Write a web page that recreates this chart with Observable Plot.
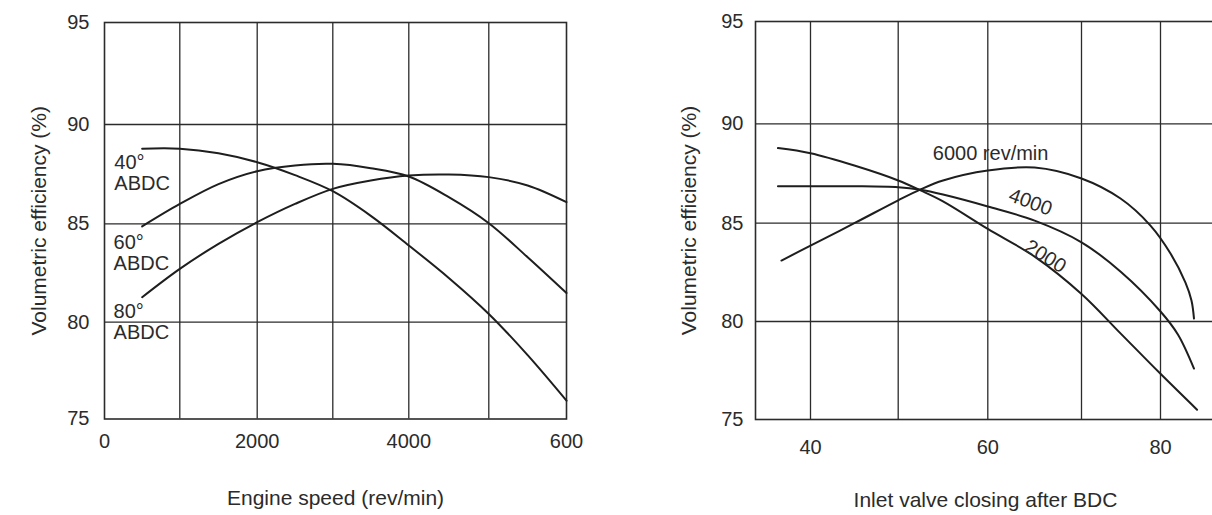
<!DOCTYPE html>
<html>
<head>
<meta charset="utf-8">
<script src="https://cdn.jsdelivr.net/npm/d3@7"></script>
<script src="https://cdn.jsdelivr.net/npm/@observablehq/plot@0.6"></script>
<style>
  html, body { margin: 0; padding: 0; background: #fff; overflow: hidden; }
  #wrap { position: relative; width: 1212px; height: 515px; overflow: hidden; background: #fff; }
  #left { position: absolute; left: 0; top: 0; width: 606px; height: 515px; }
  #right { position: absolute; left: 606px; top: 0; width: 700px; height: 515px; }
  #wrap svg { max-width: none !important; }
</style>
</head>
<body>
<div id="wrap"><div id="left"></div><div id="right"></div></div>
<script>
// ---------- Left panel data: volumetric efficiency vs engine speed ----------
const speed = [500, 1000, 1500, 2000, 2500, 3000, 3500, 4000, 4500, 5000, 5500, 6000];
const ve40 = [88.78, 88.78, 88.55, 88.1, 87.45, 86.64, 85.4, 83.9, 82.25, 80.42, 78.3, 75.95];
const ve60 = [84.87, 86.0, 87.0, 87.65, 87.94, 88.02, 87.8, 87.38, 86.34, 85.03, 83.3, 81.48];
const ve80 = [81.27, 82.71, 83.98, 85.08, 86.0, 86.76, 87.18, 87.43, 87.48, 87.35, 86.93, 86.09];
const leftXTicks = [0, 2000, 4000, 6000];
const leftXTickLabels = ["0", "2000", "4000", "600"];
const leftXGrid = [1000, 2000, 3000, 4000, 5000];
const yTicks = [75, 80, 85, 90, 95];
const yGrid = [80, 85, 90];
const leftLabels = ["40°\nABDC", "60°\nABDC", "80°\nABDC"];
const leftLabelX = [130, 120, 120];
const leftLabelY = [87.56, 83.53, 80.04];

// ---------- Right panel data: volumetric efficiency vs inlet valve closing ----------
const ivc6000 = [36.7, 40, 45, 50, 52.5, 55, 60, 65, 70, 74.94, 78.73, 81.15, 82.87, 83.56, 83.85];
const ve6000 = [83.1, 83.86, 85.0, 86.15, 86.7, 87.15, 87.65, 87.8, 87.25, 86.24, 84.88, 83.46, 81.98, 81.07, 80.15];
const ivc4000 = [36.3, 40, 45, 50, 52.5, 55, 60, 65, 70, 75, 80, 82, 83.85];
const ve4000 = [86.86, 86.86, 86.86, 86.81, 86.68, 86.44, 85.84, 85.13, 84.03, 82.52, 80.51, 79.34, 77.6];
const ivc2000 = [36.3, 40, 45, 50, 52.5, 55, 60, 65, 70, 75, 80, 84.2];
const ve2000 = [88.78, 88.52, 87.9, 87.15, 86.65, 86.1, 84.71, 83.3, 81.4, 79.37, 77.33, 75.5];
const rightXTicks = [40, 60, 80];
const rightXGrid = [40, 50, 60, 70, 80];
const rightLabels = ["6000 rev/min", "4000", "2000"];
const rightLabelX = [60.3, 64.56, 66.16];
const rightLabelY = [88.52, 86.06, 83.31];
const rightLabelRotate = [0, 20, 32];

const yTitle = "Volumetric efficiency (%)";
const leftXTitle = "Engine speed (rev/min)";
const rightXTitle = "Inlet valve closing after BDC";

const ink = "#2b2b2b";
const font = "'Liberation Sans', Arial, Helvetica, sans-serif";

function series(xs, ys) { return xs.map((x, i) => ({x, y: ys[i]})); }
const lineStyle = {x: "x", y: "y", stroke: "#1e1e1e", strokeWidth: 2, curve: "catmull-rom"};

const leftPlot = Plot.plot({
  width: 606, height: 515,
  marginLeft: 104, marginRight: 40, marginTop: 22, marginBottom: 96.5,
  style: {fontFamily: font, fontSize: "20px", color: ink, background: "transparent", maxWidth: "none"},
  x: {type: "linear", domain: [0, 1000, 2000, 3000, 4000, 5000, 6000],
      range: [104, 179.3, 256.7, 332.3, 408.3, 488.3, 566],
      ticks: leftXTicks, tickFormat: d => leftXTickLabels[leftXTicks.indexOf(d)],
      tickSize: 0, tickPadding: 15, label: null},
  y: {type: "linear", domain: [75, 80, 85, 90, 95],
      range: [418.5, 321.7, 223.3, 124, 22],
      ticks: yTicks, tickSize: 0, tickPadding: 15, label: null},
  marks: [
    Plot.ruleX(leftXGrid, {stroke: ink, strokeWidth: 1.3}),
    Plot.ruleY(yGrid, {stroke: ink, strokeWidth: 1.3}),
    Plot.frame({stroke: ink, strokeWidth: 1.6}),
    Plot.line(series(speed, ve40), lineStyle),
    Plot.line(series(speed, ve60), lineStyle),
    Plot.line(series(speed, ve80), lineStyle),
    Plot.text(leftLabels, {x: (d, i) => leftLabelX[i], y: (d, i) => leftLabelY[i], text: d => d,
      textAnchor: "start", lineAnchor: "middle", lineHeight: 1.05, fontSize: 20, fill: ink}),
    Plot.text([yTitle], {frameAnchor: "left", dx: -65, rotate: -90, textAnchor: "middle", lineAnchor: "middle", fontSize: 21, fill: ink}),
    Plot.text([leftXTitle], {frameAnchor: "bottom", dy: 79, textAnchor: "middle", lineAnchor: "middle", fontSize: 21, fill: ink})
  ]
});
document.getElementById("left").appendChild(leftPlot);

const rightPlot = Plot.plot({
  width: 700, height: 515,
  marginLeft: 149, marginRight: 59, marginTop: 21, marginBottom: 96,
  style: {fontFamily: font, fontSize: "20px", color: ink, background: "transparent", maxWidth: "none"},
  x: {type: "linear", domain: [33.75, 40, 50, 60, 70, 80, 90],
      range: [149, 204, 291.7, 381.3, 475, 554, 641],
      ticks: rightXTicks, tickSize: 0, tickPadding: 20, label: null},
  y: {type: "linear", domain: [75, 80, 85, 90, 95],
      range: [419, 321, 222.7, 123.3, 21],
      ticks: yTicks, tickSize: 0, tickPadding: 12, label: null},
  marks: [
    Plot.ruleX(rightXGrid, {stroke: ink, strokeWidth: 1.3}),
    Plot.ruleY(yGrid, {stroke: ink, strokeWidth: 1.3}),
    Plot.frame({stroke: ink, strokeWidth: 1.6}),
    Plot.line(series(ivc6000, ve6000), lineStyle),
    Plot.line(series(ivc4000, ve4000), lineStyle),
    Plot.line(series(ivc2000, ve2000), lineStyle),
    Plot.text(rightLabels, {x: (d, i) => rightLabelX[i], y: (d, i) => rightLabelY[i], text: d => d,
      rotate: (d, i) => rightLabelRotate[i],
      textAnchor: (d, i) => i === 0 ? "start" : "middle", fontSize: 20, fill: ink}),
    Plot.text([yTitle], {frameAnchor: "left", dx: -66, rotate: -90, textAnchor: "middle", lineAnchor: "middle", fontSize: 21, fill: ink}),
    Plot.text([rightXTitle], {frameAnchor: "bottom", dx: -16, dy: 81, textAnchor: "middle", lineAnchor: "middle", fontSize: 21, fill: ink})
  ]
});
document.getElementById("right").appendChild(rightPlot);
</script>
</body>
</html>
